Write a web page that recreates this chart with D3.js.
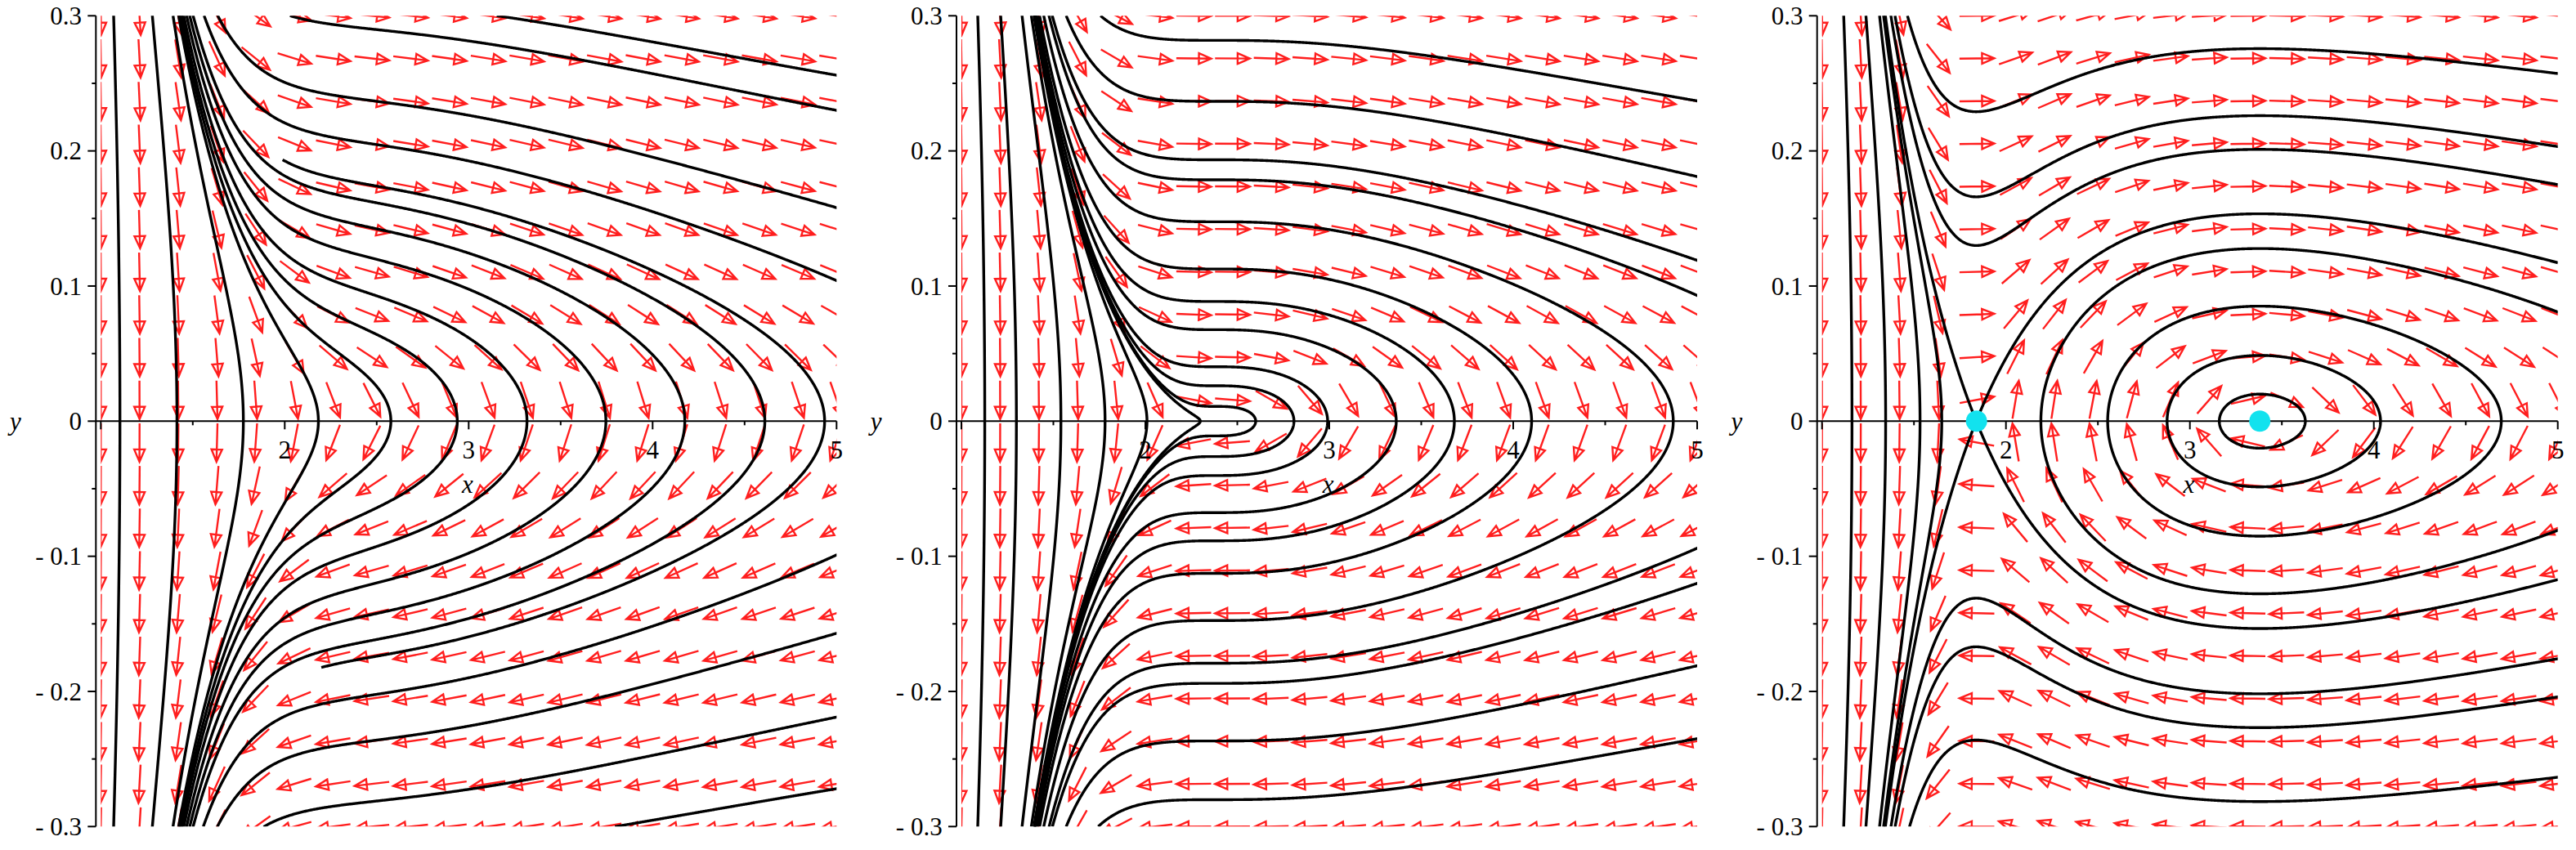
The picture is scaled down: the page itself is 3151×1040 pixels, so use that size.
<!DOCTYPE html>
<html lang="en">
<head>
<meta charset="UTF-8">
<title>Phase portraits</title>
<script src="https://d3js.org/d3.v7.min.js"></script>
<style>
  body { margin: 0; background: #fff; }
  svg text { font-family: "Liberation Serif", "Times New Roman", serif; fill: #000; }
  .field path { fill: none; stroke: #ff1e1e; stroke-width: 2.4px; stroke-linejoin: miter; }
  .orbit { fill: none; stroke: #000; stroke-width: 3.4px; stroke-linejoin: round; }
  .axis line { stroke: #000; stroke-width: 2px; }
</style>
</head>
<body>
<svg width="3151" height="1040" font-family="Liberation Serif, Times New Roman, serif"></svg>
<script>
// system: x' = y,  y' = -K (x^2 - b x + C b) / x^4.5   (b changes from panel to panel)
const K = 1.15, C = 1.191;
const bValues = [4.6, 4.764, 5.22];
const panelLeft = [0, 1052.7, 2105.4];

const xTicks = [1, 1.5, 2, 2.5, 3, 3.5, 4, 4.5, 5];
const xLabels = [2, 3, 4, 5];
const yTicks = [-0.3, -0.25, -0.2, -0.15, -0.1, -0.05, 0, 0.05, 0.1, 0.15, 0.2, 0.25, 0.3];
const yLabels = [[0.3, "0.3"], [0.2, "0.2"], [0.1, "0.1"], [0, "0"],
                 [-0.1, "- 0.1"], [-0.2, "- 0.2"], [-0.3, "- 0.3"]];

// panel 1: orbits through (x,0), orbits leaving the right edge (y at x=5),
// and one orbit cut short at both ends [x crossing, x end upper, x end lower]
const cross1 = [1.104, 1.414, 1.775, 2.183, 2.577, 2.938, 3.317, 3.746, 4.175, 4.61];
const edge1 = [0.256, 0.230, 0.158, 0.104, -0.099, -0.157, -0.219, -0.272];
const cut1 = [[4.935, 1.99, 2.2]];

// panel 2
const cross2 = [1.127, 1.299, 1.541, 1.781, 2.009, 2.299, 2.60, 2.808, 2.991, 3.364, 3.68, 4.10, 4.87];
const edge2 = [0.237, 0.181, 0.119, 0.093, -0.094, -0.120, -0.181, -0.235];

// panel 3: crossings, orbits through the saddle column, equilibrium dots
const cross3 = [1.163, 1.346, 1.533, 1.651, 2.19, 2.553, 2.876, 3.16];
const column3 = [0.229, 0.166, 0.130, -0.131, -0.167, -0.236];
const dots3 = [1.84, 3.38];

const x = d3.scaleLinear().domain([1, 5]).range([123.3, 1023.3]);
const y = d3.scaleLinear().domain([-0.3, 0.3]).range([1011.3, 19.3]);
const SX = (x(5) - x(1)) / 4, SY = (y(-0.3) - y(0.3)) / 0.6;

const svg = d3.select("svg");
svg.append("defs").append("clipPath").attr("id", "plotclip")
  .append("rect")
  .attr("x", x(1)).attr("y", y(0.3))
  .attr("width", x(5) - x(1)).attr("height", y(-0.3) - y(0.3));

function force(b) {
  return v => -K * (v * v - b * v + C * b) / Math.pow(v, 4.5);
}

// walk along the orbit, one pixel at a time
function trace(F, x0, y0, dir, opt) {
  opt = opt || {};
  const pts = [[x0, y0]];
  const h = 1;
  const f = (a, c) => {
    const vx = c * SX, vy = F(a) * SY, n = Math.hypot(vx, vy) || 1;
    return [dir * vx / n / SX, dir * vy / n / SY];
  };
  let px = x0, py = y0;
  for (let i = 0; i < 6000; i++) {
    const k1 = f(px, py);
    const k2 = f(px + h / 2 * k1[0], py + h / 2 * k1[1]);
    const k3 = f(px + h / 2 * k2[0], py + h / 2 * k2[1]);
    const k4 = f(px + h * k3[0], py + h * k3[1]);
    const nx = px + h / 6 * (k1[0] + 2 * k2[0] + 2 * k3[0] + k4[0]);
    const ny = py + h / 6 * (k1[1] + 2 * k2[1] + 2 * k3[1] + k4[1]);
    if (opt.stopY && py !== 0 && Math.sign(ny) !== Math.sign(py)) {
      const t = py / (py - ny);
      pts.push([px + t * (nx - px), 0]);
      break;
    }
    px = nx; py = ny;
    pts.push([px, py]);
    if (px < 1 || px > 5 || py < -0.3 || py > 0.3) break;
    if (opt.xStop !== undefined && px < opt.xStop) break;
  }
  return pts;
}

function both(F, x0, y0, opt1, opt2) {
  const back = trace(F, x0, y0, -1, opt1).reverse();
  const fwd = trace(F, x0, y0, 1, opt2);
  return back.concat(fwd.slice(1));
}

const line = d3.line().x(d => x(d[0])).y(d => y(d[1]));

const panels = [
  { b: bValues[0], cross: cross1, edge: edge1, cut: cut1, column: [], dots: [] },
  { b: bValues[1], cross: cross2, edge: edge2, cut: [], column: [], dots: [] },
  { b: bValues[2], cross: cross3, edge: [], cut: [], column: column3, dots: dots3 }
];

panels.forEach((p, pi) => {
  const F = force(p.b);
  const g = svg.append("g").attr("transform", `translate(${panelLeft[pi]},0)`);
  const plot = g.append("g").attr("clip-path", "url(#plotclip)");

  // direction field, 20 x 20 grid, arrows of equal length
  const nx = 20, ny = 20;
  const dxc = 4 / (nx - 1), dyc = 0.6 / (ny - 1);
  const arrows = [];
  for (let i = 0; i < nx; i++) {
    for (let j = 0; j < ny; j++) {
      const gx = 1 + i * dxc, gy = -0.3 + j * dyc;
      const u = gy / dxc, v = F(gx) / dyc, n = Math.hypot(u, v);
      const L = 0.9;
      const ax = u / n * L * dxc / 2, ay = v / n * L * dyc / 2;
      const t0 = [x(gx - ax), y(gy - ay)], t1 = [x(gx + ax), y(gy + ay)];
      const len = Math.hypot(t1[0] - t0[0], t1[1] - t0[1]);
      const ex = (t1[0] - t0[0]) / len, ey = (t1[1] - t0[1]) / len;
      const bx = t1[0] - 15 * ex, by = t1[1] - 15 * ey;
      const w = 6.5;
      arrows.push(`M${t0[0]},${t0[1]}L${t1[0]},${t1[1]}` +
        `M${bx - w * ey},${by + w * ex}L${t1[0]},${t1[1]}L${bx + w * ey},${by - w * ex}Z`);
    }
  }
  plot.append("g").attr("class", "field")
    .selectAll("path").data(arrows).join("path").attr("d", d => d);

  // orbits
  const orbits = [];
  p.cross.forEach(xc => orbits.push(both(F, xc, 0, { stopY: true }, { stopY: true })));
  p.edge.forEach(ye => orbits.push(both(F, 5, ye)));
  p.cut.forEach(c => orbits.push(both(F, c[0], 0, { xStop: c[1] }, { xStop: c[2] })));
  p.column.forEach(yc => orbits.push(both(F, p.dots[0], yc)));
  if (p.dots.length) {
    // separatrices of the saddle
    const disc = Math.sqrt(p.b * p.b - 4 * C * p.b);
    const r1 = [(p.b - disc) / 2, (p.b + disc) / 2]
      .sort((a, c) => Math.abs(a - p.dots[0]) - Math.abs(c - p.dots[0]))[0];
    const lam = Math.sqrt((F(r1 + 1e-6) - F(r1 - 1e-6)) / 2e-6);
    const e = 2e-4;
    orbits.push(trace(F, r1 + e, e * lam, 1));
    orbits.push(trace(F, r1 - e, -e * lam, 1));
    orbits.push(trace(F, r1 - e, e * lam, -1));
    orbits.push(trace(F, r1 + e, -e * lam, -1));
  }
  plot.append("g").selectAll("path").data(orbits).join("path")
    .attr("class", "orbit").attr("d", line);

  // axes
  const ax = g.append("g").attr("class", "axis");
  const axX = x(1) - 6;
  ax.append("line").attr("x1", axX).attr("x2", axX).attr("y1", y(0.3)).attr("y2", y(-0.3));
  ax.append("line").attr("x1", axX).attr("x2", x(5)).attr("y1", y(0)).attr("y2", y(0));
  ax.selectAll(".yt").data(yTicks).join("line")
    .attr("x1", d => axX - (Math.abs(Math.round(d * 10) - d * 10) < 1e-6 ? 10 : 5))
    .attr("x2", axX).attr("y1", d => y(d)).attr("y2", d => y(d));
  ax.selectAll(".xt").data(xTicks).join("line")
    .attr("x1", d => x(d)).attr("x2", d => x(d))
    .attr("y1", y(0)).attr("y2", d => y(0) + (Number.isInteger(d) ? 10 : 5));

  g.selectAll(".ylab").data(yLabels).join("text")
    .attr("x", 100).attr("y", d => y(d[0])).attr("dy", "0.35em")
    .attr("text-anchor", "end").attr("font-size", 31).text(d => d[1]);
  g.selectAll(".xlab").data(xLabels).join("text")
    .attr("x", d => x(d)).attr("y", 561)
    .attr("text-anchor", "middle").attr("font-size", 31).text(d => d);
  g.append("text").attr("x", 12).attr("y", 526).attr("font-size", 31)
    .attr("font-style", "italic").text("y");
  g.append("text").attr("x", 572).attr("y", 603).attr("font-size", 31)
    .attr("text-anchor", "middle").attr("font-style", "italic").text("x");

  // equilibria
  g.selectAll(".dot").data(p.dots).join("circle")
    .attr("cx", d => x(d)).attr("cy", y(0)).attr("r", 13).attr("fill", "#12e2ee");
});
</script>
</body>
</html>
